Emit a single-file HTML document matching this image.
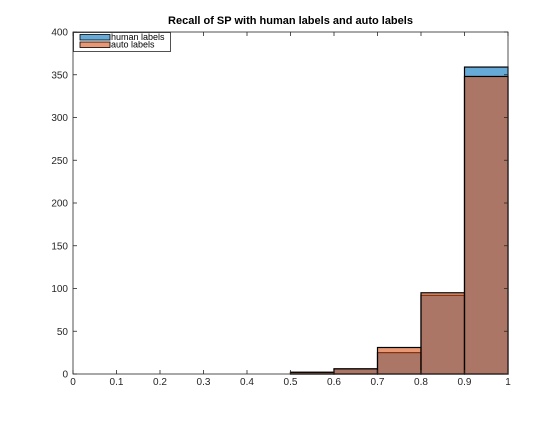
<!DOCTYPE html>
<html><head><meta charset="utf-8"><style>
body{margin:0;background:#fff;font-family:"Liberation Sans",sans-serif}
</style></head><body>
<svg id="c" width="560" height="420" xmlns="http://www.w3.org/2000/svg">
<rect width="560" height="420" fill="#fff"/>
</svg>
<script>
const binEdges=[0,0.1,0.2,0.3,0.4,0.5,0.6,0.7,0.8,0.9,1];
const humanCounts=[0,0,0,0,0,2,6,25,92,359];
const autoCounts=[0,0,0,0,0,2,6,31,95,348];
const xTicks=[0,0.1,0.2,0.3,0.4,0.5,0.6,0.7,0.8,0.9,1];
const yTicks=[0,50,100,150,200,250,300,350,400];
const NS="http://www.w3.org/2000/svg";
const svg=document.getElementById('c');
const X0=73,X1=508,Y0=374,Y1=32;
const sx=v=>X0+(X1-X0)*v;
const sy=v=>Y0-(Y0-Y1)*v/400;
function el(t,a,p){const e=document.createElementNS(NS,t);for(const k in a)e.setAttribute(k,a[k]);(p||svg).appendChild(e);return e;}
// bars
const gH=el('g',{});


humanCounts.forEach((v,i)=>{
 const r=el('rect',{x:sx(binEdges[i]),y:sy(v),width:sx(binEdges[i+1])-sx(binEdges[i]),height:sy(0)-sy(v),fill:'rgb(0,114,189)','fill-opacity':0.6,stroke:'#000','stroke-width':1.2},gH);
 
 
});
const gA=el('g',{});


autoCounts.forEach((v,i)=>{
 const r=el('rect',{x:sx(binEdges[i]),y:sy(v),width:sx(binEdges[i+1])-sx(binEdges[i]),height:sy(0)-sy(v),fill:'rgb(217,83,25)','fill-opacity':0.6,stroke:'#000','stroke-width':1.2},gA);
 
 
});
// axes box
const box=el('rect',{x:X0,y:Y1,width:X1-X0,height:Y0-Y1,fill:'none',stroke:'#262626','stroke-width':0.8});


xTicks.forEach(t=>{
 const x=sx(t);
 el('line',{x1:x,x2:x,y1:Y0,y2:Y0-4,stroke:'#262626','stroke-width':0.8});
 el('line',{x1:x,x2:x,y1:Y1,y2:Y1+4,stroke:'#262626','stroke-width':0.8});
 const tx=el('text',{x:x,y:Y0+11,'font-size':10,'text-anchor':'middle',fill:'#262626'});
 tx.textContent=String(t);
 
 
});
yTicks.forEach(t=>{
 const y=sy(t);
 el('line',{x1:X0,x2:X0+4,y1:y,y2:y,stroke:'#262626','stroke-width':0.8});
 el('line',{x1:X1,x2:X1-4,y1:y,y2:y,stroke:'#262626','stroke-width':0.8});
 const tx=el('text',{x:X0-5,y:y+3.5,'font-size':10,'text-anchor':'end',fill:'#262626'});
 tx.textContent=String(t);
 
 
});
const title=el('text',{x:(X0+X1)/2,y:24,'font-size':11,'font-weight':'bold','text-anchor':'middle',fill:'#000'});
title.textContent='Recall of SP with human labels and auto labels';


// legend
const lg=el('g',{});


el('rect',{x:73.5,y:32.5,width:97,height:19,fill:'#fff',stroke:'#262626','stroke-width':0.8},lg);
[['human labels','rgb(0,114,189)',34.5],['auto labels','rgb(217,83,25)',42]].forEach(([n,c,y])=>{
 const s=el('rect',{x:80,y:y,width:30,height:5.5,fill:c,'fill-opacity':0.6,stroke:'#000','stroke-width':0.8},lg);
 
 
 const t=el('text',{x:111,y:y+5.5,'font-size':9,fill:'#000'},lg);
 t.textContent=n;
 
 
});
</script>
</body></html>
